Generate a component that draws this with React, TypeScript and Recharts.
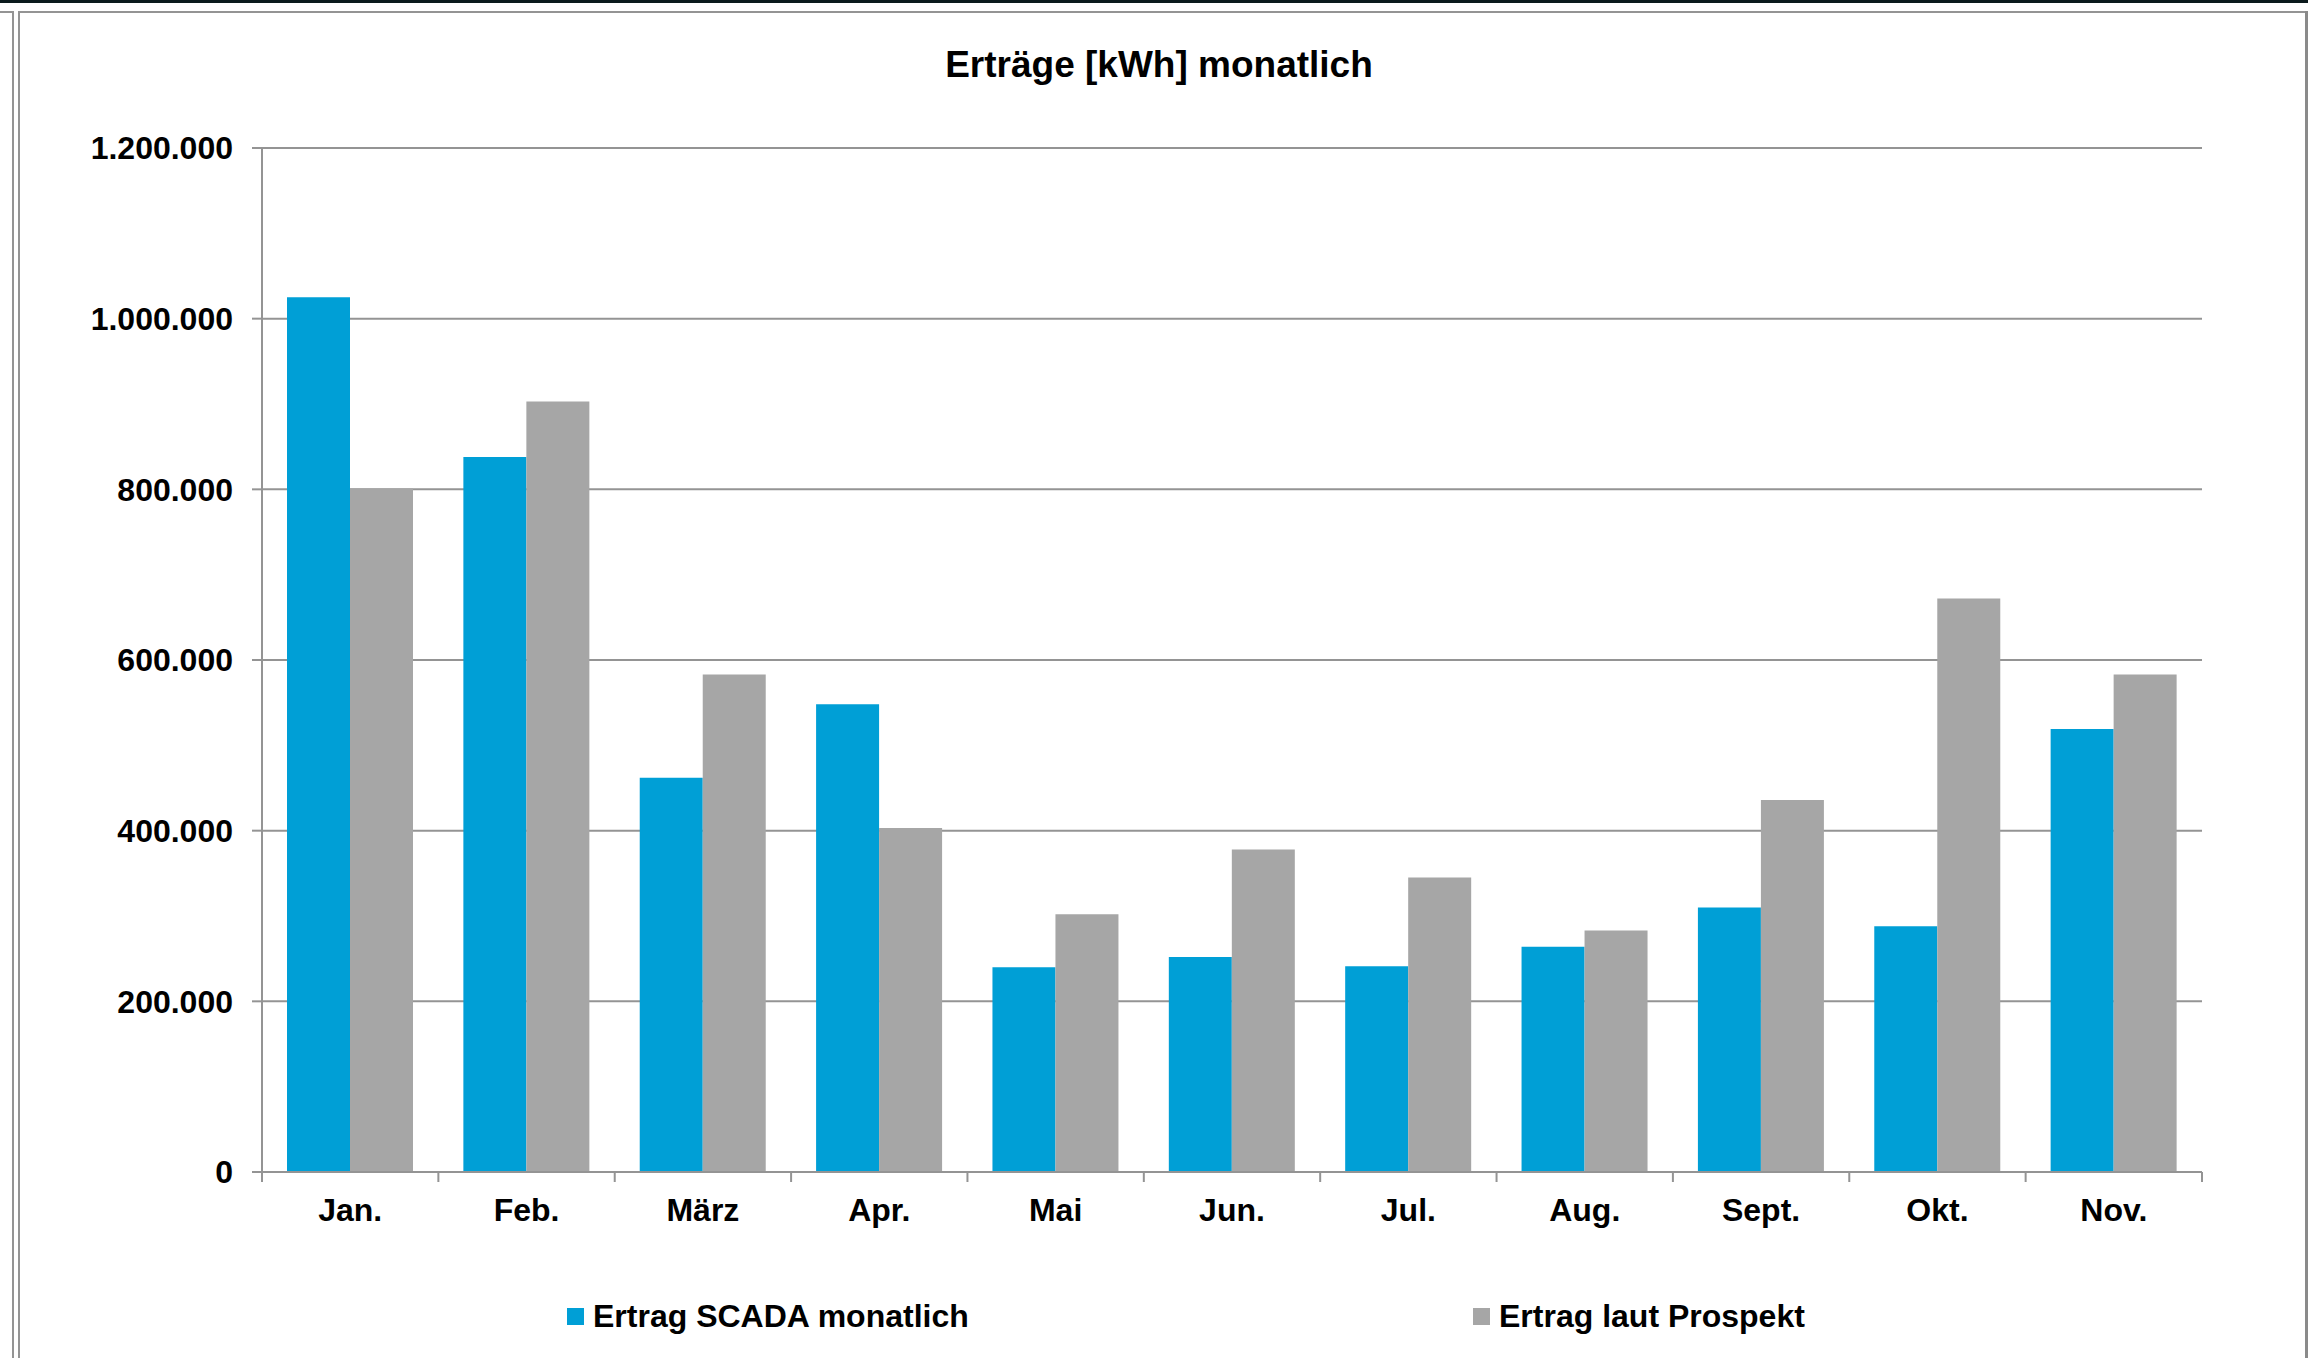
import React from 'react';
import { BarChart, Bar, XAxis, YAxis, CartesianGrid } from 'recharts';

const months = ['Jan.', 'Feb.', 'März', 'Apr.', 'Mai', 'Jun.', 'Jul.', 'Aug.', 'Sept.', 'Okt.', 'Nov.'];
const scadaValues = [1025000, 838000, 462000, 548000, 240000, 252000, 241000, 264000, 310000, 288000, 519000];
const prospektValues = [801000, 903000, 583000, 403000, 302000, 378000, 345000, 283000, 436000, 672000, 583000];
const yTicks = [0, 200000, 400000, 600000, 800000, 1000000, 1200000];

const seriesNames = ['Ertrag SCADA monatlich', 'Ertrag laut Prospekt'];
const seriesColors = ['#009FD6', '#A6A6A6'];

const FONT = '"Liberation Sans", Arial, Helvetica, sans-serif';
const AXIS_GRAY = '#949494';
const PLOT_W = 1940;

const data = months.map((m, i) => ({ month: m, scada: scadaValues[i], prospekt: prospektValues[i] }));

const fmt = (v: number) => String(v).replace(/\B(?=(\d{3})+(?!\d))/g, '.');

const MonthTick = (props: any) => {
  const { x, y, payload, index } = props;
  const half = PLOT_W / months.length / 2;
  return (
    <g>
      <line x1={x - half} x2={x - half} y1={y} y2={y + 10} stroke={AXIS_GRAY} strokeWidth={2} />
      {index === months.length - 1 && (
        <line x1={x + half} x2={x + half} y1={y} y2={y + 10} stroke={AXIS_GRAY} strokeWidth={2} />
      )}
      <text x={x} y={y + 49} textAnchor="middle" fill="#000" fontSize={32} fontWeight="bold" fontFamily={FONT}>
        {payload.value}
      </text>
    </g>
  );
};

const box = (s: React.CSSProperties): React.CSSProperties => ({ position: 'absolute', ...s });

export default function App() {
  return (
    <div style={{ position: 'absolute', left: 0, top: 0, width: 2308, height: 1358, background: '#fff', overflow: 'hidden', fontFamily: FONT }}>
      {/* frame */}
      <div style={box({ left: 0, top: 0, width: 2308, height: 3, background: '#0b1a1c' })} />
      <div style={box({ left: 0, top: 11, width: 14, height: 2, background: AXIS_GRAY })} />
      <div style={box({ left: 12, top: 11, width: 2, height: 1347, background: AXIS_GRAY })} />
      <div style={box({ left: 18, top: 11, width: 2290, height: 2, background: AXIS_GRAY })} />
      <div style={box({ left: 18, top: 11, width: 2, height: 1347, background: AXIS_GRAY })} />
      <div style={box({ left: 2305, top: 11, width: 3, height: 1347, background: '#8a8a8a' })} />

      <div style={box({ left: 1159, top: 46, transform: 'translateX(-50%)', whiteSpace: 'nowrap', fontSize: 37, lineHeight: '37px', fontWeight: 'bold', color: '#000' })}>
        Erträge [kWh] monatlich
      </div>

      <div style={box({ left: 0, top: 0 })}>
        <BarChart width={2308} height={1358} data={data} margin={{ top: 148, right: 106, bottom: 126, left: 0 }} barCategoryGap={25} barGap={0}>
          <CartesianGrid vertical={false} stroke={AXIS_GRAY} strokeWidth={2} />
          <XAxis
            dataKey="month"
            height={60}
            interval={0}
            tickSize={0}
            tickMargin={0}
            tickLine={false}
            axisLine={{ stroke: AXIS_GRAY, strokeWidth: 2 }}
            tick={<MonthTick />}
          />
          <YAxis
            width={262}
            domain={[0, 1200000]}
            ticks={yTicks}
            interval={0}
            tickFormatter={fmt}
            tickSize={10}
            tickMargin={19}
            tickLine={{ stroke: AXIS_GRAY, strokeWidth: 2 }}
            axisLine={{ stroke: AXIS_GRAY, strokeWidth: 2 }}
            tick={{ fill: '#000', fontSize: 32, fontWeight: 'bold', fontFamily: FONT }}
          />
          <Bar dataKey="scada" name={seriesNames[0]} fill={seriesColors[0]} isAnimationActive={false} />
          <Bar dataKey="prospekt" name={seriesNames[1]} fill={seriesColors[1]} isAnimationActive={false} />
        </BarChart>
      </div>

      {/* legend */}
      {[567, 1473].map((left, i) => (
        <div key={seriesNames[i]} style={box({ left, top: 1294, height: 44, display: 'flex', alignItems: 'center', whiteSpace: 'nowrap' })}>
          <span style={{ display: 'inline-block', width: 17, height: 17, background: seriesColors[i], marginRight: 9 }} />
          <span style={{ fontSize: 32, fontWeight: 'bold', color: '#000', lineHeight: '44px' }}>{seriesNames[i]}</span>
        </div>
      ))}
    </div>
  );
}
